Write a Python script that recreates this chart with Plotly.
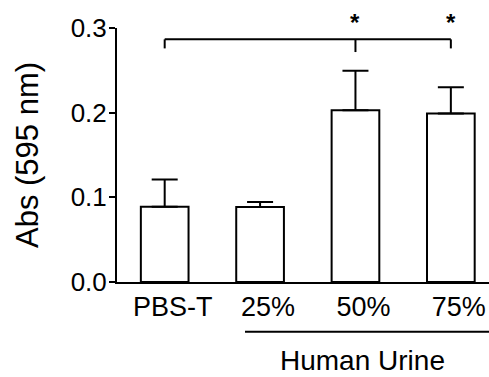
import plotly.graph_objects as go

categories = ["PBS-T", "25%", "50%", "75%"]
means = [0.089, 0.0885, 0.203, 0.199]
sem = [0.032, 0.006, 0.0465, 0.031]
y_ticks = [0.0, 0.1, 0.2, 0.3]
group_label = "Human Urine"
sig_marks = ["*", "*"]
sig_idx = [2, 3]

FONT = "Liberation Sans, Arial, sans-serif"
xmin, xmax = -0.5, 3.4
ymin, ymax = 0.0, 0.3
xi = list(range(len(categories)))

fig = go.Figure()
fig.add_trace(go.Bar(
    x=xi, y=means, width=0.5,
    marker=dict(color="white", line=dict(color="black", width=2)),
    error_y=dict(type="data", array=sem, arrayminus=[0]*len(sem), symmetric=False,
                 color="black", thickness=2, width=13),
    showlegend=False,
))

# significance bracket
yb = 0.2866
fig.add_shape(type="line", x0=0, x1=3, y0=yb, y1=yb, xref="x", yref="y",
              line=dict(color="black", width=2))
for x, y1 in [(0, 0.2759), (2, 0.2716), (3, 0.2759)]:
    fig.add_shape(type="line", x0=x, x1=x, y0=yb, y1=y1, xref="x", yref="y",
                  line=dict(color="black", width=2))
for i, m in zip(sig_idx, sig_marks):
    fig.add_annotation(x=i, y=1.022, xref="x", yref="paper", text="<b>" + m + "</b>",
                       showarrow=False, font=dict(size=24, color="black", family=FONT),
                       yanchor="middle")

# group label line + text
def px(v):
    return (v - xmin) / (xmax - xmin)
fig.add_shape(type="line", x0=px(0.842), x1=1.0, y0=-0.1957, y1=-0.1957,
              xref="paper", yref="paper", line=dict(color="black", width=2))
fig.add_annotation(x=2.07, y=-0.31, xref="x", yref="paper", text=group_label,
                   showarrow=False, font=dict(size=28, color="black", family=FONT),
                   yanchor="middle", xanchor="center")

fig.update_layout(
    width=489, height=377,
    margin=dict(l=117, r=0, t=28, b=95),
    plot_bgcolor="white", paper_bgcolor="white",
    font=dict(family=FONT, color="black"),
)
fig.update_xaxes(
    range=[xmin, xmax], tickvals=xi, ticktext=categories,
    showline=True, linecolor="black", linewidth=2, ticks="",
    showgrid=False, zeroline=False, tickfont=dict(size=27),
    ticklabelshift=8,
)
fig.update_yaxes(
    range=[ymin, ymax], tickvals=y_ticks, tickformat=".1f",
    showline=True, linecolor="black", linewidth=2, ticks="outside",
    ticklen=6, tickwidth=2, tickcolor="black",
    showgrid=False, zeroline=False, tickfont=dict(size=26),
    ticklabelstandoff=-3,
    title=dict(text="Abs (595 nm)", font=dict(size=31), standoff=23),
)
fig.write_html("out.html")
